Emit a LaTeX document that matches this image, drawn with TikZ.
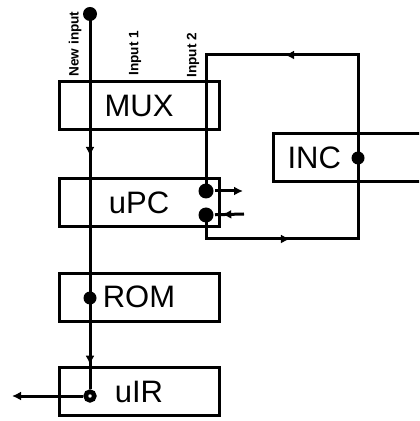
\documentclass[tikz,border=0pt]{standalone}
\usepackage{fontspec}
\setsansfont{Liberation Sans}
\usetikzlibrary{arrows.meta,decorations.markings}

\begin{document}
\begin{tikzpicture}[x=0.5pt,y=-0.5pt,>={Latex[length=4.5pt,width=4.5pt]},line width=1.5pt,
  blk/.style={rectangle,draw,minimum width=80pt,minimum height=24pt,inner sep=0pt,font=\sffamily\fontsize{15.5}{15.5}\selectfont},
  jn/.style={circle,fill,inner sep=0pt,minimum size=#1},
  lbl/.style={rotate=90,anchor=west,inner sep=0pt,font=\sffamily\bfseries\fontsize{6.8}{6.8}\selectfont},
  midarr/.style={postaction={decorate},decoration={markings,mark=at position #1 with {\arrow{>}}}}]
\useasboundingbox (0,0) rectangle (419,421);
\clip (0,0) rectangle (419,421);
\foreach \n/\t/\y in {mux/MUX/106,upc/uPC/203,rom/ROM/297,uir/uIR/391.5}
  \node[blk] (\n) at (139,\y) {\t};
\node[blk,anchor=west,minimum width=0pt,text width=84pt,align=left,inner xsep=7pt] (inc) at (272,157.5) {INC};
% junctions
\node[jn=7pt] (ni) at (90,14) {};
\node[jn=6.5pt] (romdot) at (90,298) {};
\node[jn=4.3pt,fill=white,draw,line width=2.3pt] (uirdot) at (90,396) {};
\node[jn=7.5pt] (pcin) at (206,191) {};
\node[jn=7.5pt] (pcout) at (206,215) {};
\node[jn=6.5pt] (incdot) at (358,158) {};
\coordinate (pcx) at (243,191);
\coordinate (pcy) at (244,214);
\coordinate (uo) at (12,396);
\coordinate (bl) at (206,239);
\coordinate (br) at (358,239);
\coordinate (tr) at (358,55);
\coordinate (tl) at (206,55);
% wires
\draw[midarr=0.5] (ni.center) -- (romdot.center);
\draw[midarr=0.73] (romdot.center) -- (uirdot);
\draw[->] (uirdot) -- (uo);
\draw[midarr=0.42] (pcout.center) -- (bl) -- (br) -- (incdot.center);
\draw[midarr=0.45] (incdot.center) -- (tr) -- (tl) -- (pcin.center);
\draw[->] (pcin) -- (pcx);
\draw[midarr=0.75] (pcy) -- (pcout);
% input labels
\node[lbl] (lnew) at (75,78) {New input};
\node[lbl] (lin1) at (135,77) {Input 1};
\node[lbl] (lin2) at (193,79) {Input 2};
\end{tikzpicture}
\end{document}
